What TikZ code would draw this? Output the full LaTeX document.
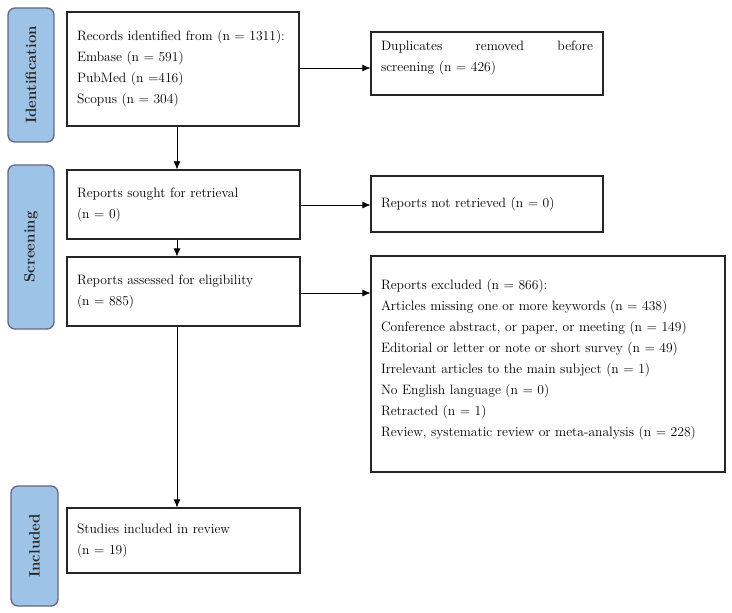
\documentclass[tikz,border=0pt]{standalone}
\usetikzlibrary{arrows.meta}
\tikzset{
  box/.style={draw=black!85, line width=1.2bp, fill=white, text width=#1, align=left,
    inner xsep=10bp, inner ysep=4bp, font=\fontsize{13.6bp}{21bp}\selectfont},
  stage/.style={draw=black!75!blue!60, line width=1.3bp, fill=stagefill, rounded corners=7bp,
    minimum height=46bp, font=\bfseries\fontsize{15bp}{16bp}\selectfont, text=black!85, rotate=90},
  arr/.style={-{Latex[length=8bp,width=7bp]}, line width=0.7bp}
}
\definecolor{stagefill}{HTML}{9DC3E6}
\begin{document}
\begin{tikzpicture}[x=1bp,y=-1bp]
\useasboundingbox (0,0) rectangle (732,613);
% stage labels
\node[stage, minimum width=134bp] (lid) at (31,75) {Identification};
\node[stage, minimum width=164bp] (lsc) at (31,247) {Screening};
\node[stage, minimum width=120bp, minimum height=47bp] (lin) at (34.5,546) {Included};
% boxes
\node[box=212bp, minimum height=63bp] (rec) at (183,69) [minimum height=114bp]
  {Records identified from (n = 1311):\\Embase (n = 591)\\PubMed (n =416)\\Scopus (n = 304)};
\node[box=212bp, minimum height=63bp] (dup) at (487,63.5)
  {Duplicates \hfill removed \hfill before\\screening (n = 426)\par\vspace*{-6bp}\mbox{}};
\node[box=213bp, minimum height=69bp] (sou) at (183.5,204.5)
  {Reports sought for retrieval\\(n = 0)};
\node[box=212bp, minimum height=56bp] (ret) at (487,204)
  {Reports not retrieved (n = 0)};
\node[box=213bp, minimum height=69bp] (ass) at (183.5,291.5)
  {Reports assessed for eligibility\\(n = 885)};
\node[box=334bp, minimum height=216bp] (exc) at (548,364)
  {Reports excluded (n = 866):\\
   Articles missing one or more keywords (n = 438)\\
   Conference abstract, or paper, or meeting (n = 149)\\
   Editorial or letter or note or short survey (n = 49)\\
   Irrelevant articles to the main subject (n = 1)\\
   No English language (n = 0)\\
   Retracted (n = 1)\\
   Review, systematic review or meta-analysis (n = 228)\par\vspace*{-8bp}\mbox{}};
\node[box=213bp, minimum height=65bp] (inc) at (183.5,540.5)
  {Studies included in review\\(n = 19)};
% connectors
\draw[arr] (rec.east |- 0,68) -- (dup.west |- 0,68);
\draw[arr] (rec.south -| 177,0) -- (sou.north -| 177,0);
\draw[arr] (sou.east |- 0,205) -- (ret.west |- 0,205);
\draw[arr] (sou.south -| 177,0) -- (ass.north -| 177,0);
\draw[arr] (ass.east |- 0,293) -- (exc.west |- 0,293);
\draw[arr] (ass.south -| 177,0) -- (inc.north -| 177,0);
\end{tikzpicture}
\end{document}
